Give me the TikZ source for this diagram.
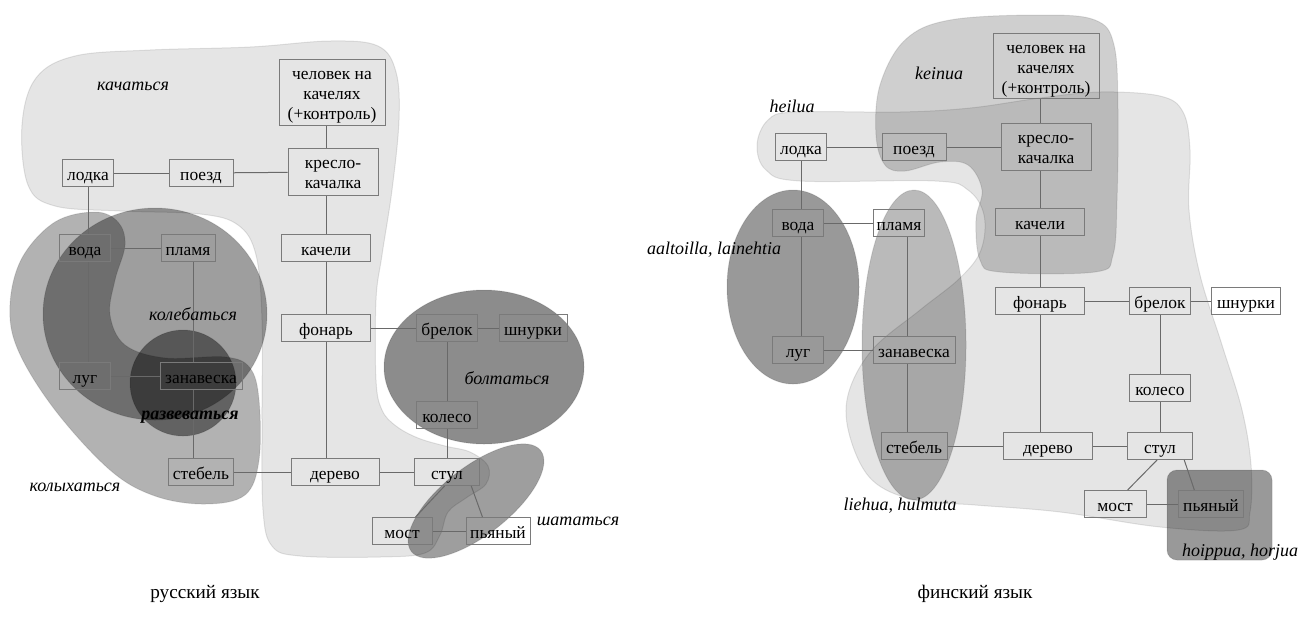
\documentclass[tikz,border=0pt]{standalone}
\usepackage{fontspec}
\setmainfont{Liberation Serif}
\usetikzlibrary{positioning}
\definecolor{BoxGray}{RGB}{122,122,122}
\definecolor{LinkGray}{RGB}{105,105,105}
\newcommand{\termfont}{\fontsize{8.7}{10}\selectfont}
\newcommand{\verbfont}{\fontsize{9}{11}\selectfont\itshape}

\begin{document}
\begin{tikzpicture}[x=0.5pt,y=-0.5pt,
    term/.style={draw=BoxGray,line width=0.5pt,font=\termfont,inner sep=1pt,
      text height=8pt,text depth=1pt,
      minimum height=13.5pt,minimum width=#1*0.5pt},
    multi/.style={text height=#1,text depth=1pt,align=center},
    link/.style={draw=LinkGray,line width=0.5pt},
    blob/.style={fill=black,fill opacity=#1,draw=black,draw opacity=0.1,line width=0.5pt},
    verb/.style={font=\verbfont},
    lang/.style={font=\fontsize{9.6}{11}\selectfont}]
  \useasboundingbox (0,0) rectangle (1299,617);

  % --- русский: области ---
  \filldraw[blob=0.1] plot[smooth cycle,tension=0.6] coordinates {
    (22,125) (36,78) (75,56) (150,50) (250,47) (330,41) (378,46) (396,72)
    (399,120) (392,190) (382,255) (376,300) (376,380) (382,410) (396,426)
    (418,438) (445,446) (470,452) (488,466) (486,484) (466,498) (448,512)
    (440,535) (425,553) (380,557) (300,556) (272,546) (263,510) (262,420)
    (262,320) (256,255) (238,225) (200,214) (120,211) (55,206) (28,185)};
  \filldraw[blob=0.3] plot[smooth cycle,tension=0.6] coordinates {
    (95,212) (118,222) (125,245) (115,280) (110,315) (125,345) (165,358)
    (225,357) (250,368) (259,400) (259,460) (245,495) (205,504) (155,496)
    (110,470) (55,410) (18,350) (10,305) (22,258) (55,222)};
  \filldraw[blob=0.38] (155,314) ellipse[x radius=112,y radius=106];
  \filldraw[blob=0.45] (183,383) circle[radius=53];
  \filldraw[blob=0.45] (484,367) ellipse[x radius=100,y radius=77];
  \filldraw[blob=0.38,rotate around={38:(476,501)}] (476,501) ellipse[x radius=82,y radius=34];

  % --- финский: области ---
  \filldraw[blob=0.1] plot[smooth cycle,tension=0.6] coordinates {
    (757,145) (768,120) (795,112) (900,112) (970,108) (1040,98) (1100,92)
    (1160,96) (1183,112) (1190,150) (1189,210) (1200,275) (1222,345)
    (1242,410) (1251,465) (1250,512) (1238,530) (1160,527) (1060,512)
    (975,505) (915,500) (872,480) (850,437) (848,395) (872,350) (920,310)
    (960,278) (981,250) (984,215) (968,190) (935,181) (800,181) (766,170)};
  \filldraw[blob=0.19] plot[smooth cycle,tension=0.6] coordinates {
    (876,135) (880,85) (905,40) (950,20) (1040,15) (1095,20) (1114,45)
    (1118,110) (1117,200) (1113,255) (1095,272) (1000,272) (980,260)
    (976,220) (982,190) (968,165) (940,162) (905,171) (885,165)};
  \filldraw[blob=0.4] (793,287) ellipse[x radius=66,y radius=97];
  \filldraw[blob=0.27] (914,345) ellipse[x radius=52,y radius=155];
  \filldraw[blob=0.4,rounded corners=5pt] (1167,470) rectangle (1272,560);

  % --- русский: узлы ---
  \node[term=106,multi=28pt,minimum height=33pt] (chelL) at (332,92) {человек на\\качелях\\(+контроль)};
  \node[term=90,multi=17.5pt,minimum height=23.5pt] (kresloL) at (333,172) {кресло-\\качалка};
  \node[term=89] (kachL) at (326,248) {качели};
  \node[term=51] (lodkaL) at (88,173) {лодка};
  \node[term=64] (poezdL) at (201,173) {поезд};
  \node[term=51] (vodaL) at (85,248) {вода};
  \node[term=54] (plamyaL) at (188,248) {пламя};
  \node[term=51] (lugL) at (85,376) {луг};
  \node[term=82] (zanavL) at (201,376) {занавеска};
  \node[term=65] (stebelL) at (201,472) {стебель};
  \node[term=89] (fonarL) at (326,328) {фонарь};
  \node[term=61] (brelokL) at (447,328) {брелок};
  \node[term=68] (shnurL) at (533,328) {шнурки};
  \node[term=61] (kolesoL) at (447,415) {колесо};
  \node[term=88] (derevoL) at (335,472) {дерево};
  \node[term=65] (stulL) at (447,472) {стул};
  \node[term=60] (mostL) at (402,531) {мост};
  \node[term=64] (pyanL) at (498,531) {пьяный};
  \coordinate (axisL) at (193,0);

  \draw[link] (chelL.south -| kachL) -- (kresloL.north -| kachL);
  \draw[link] (kresloL.south -| kachL) -- (kachL);
  \draw[link] (kachL) -- (fonarL);
  \draw[link] (fonarL) -- (fonarL |- derevoL.north);
  \draw[link] (lodkaL) -- (poezdL);
  \draw[link] (poezdL) -- (kresloL);
  \draw[link] (lodkaL) -- (lodkaL |- vodaL.north);
  \draw[link] (vodaL.south -| lodkaL) -- (lugL.north -| lodkaL);
  \draw[link] (vodaL) -- (plamyaL);
  \draw[link] (lugL) -- (zanavL);
  \draw[link] (plamyaL.south -| axisL) -- (zanavL.north -| axisL);
  \draw[link] (zanavL.south -| axisL) -- (stebelL.north -| axisL);
  \draw[link] (stebelL) -- (derevoL);
  \draw[link] (derevoL) -- (stulL);
  \draw[link] (fonarL) -- (brelokL);
  \draw[link] (brelokL) -- (shnurL);
  \draw[link] (brelokL) -- (kolesoL);
  \draw[link] (kolesoL) -- (stulL);
  \draw[link] (stulL.260) -- (mostL.46);
  \draw[link] (stulL.330) -- (pyanL.138);
  \draw[link] (mostL) -- (pyanL);

  % --- финский: узлы ---
  \node[term=106,multi=28pt,minimum height=32.5pt] (chelR) at (1046,66) {человек на\\качелях\\(+контроль)};
  \node[term=90,multi=17.5pt,minimum height=23.5pt] (kresloR) at (1046,147) {кресло-\\качалка};
  \node[term=89] (kachR) at (1040,222) {качели};
  \node[term=51] (lodkaR) at (801,147) {лодка};
  \node[term=64] (poezdR) at (914,147) {поезд};
  \node[term=51] (vodaR) at (798,223) {вода};
  \node[term=51] (plamyaR) at (899,223) {пламя};
  \node[term=51] (lugR) at (798,350) {луг};
  \node[term=82] (zanavR) at (914,350) {занавеска};
  \node[term=66] (stebelR) at (914,446) {стебель};
  \node[term=89] (fonarR) at (1040,301) {фонарь};
  \node[term=61] (brelokR) at (1160,301) {брелок};
  \node[term=69] (shnurR) at (1246,301) {шнурки};
  \node[term=61] (kolesoR) at (1160,388) {колесо};
  \node[term=89] (derevoR) at (1048,446) {дерево};
  \node[term=65] (stulR) at (1160,446) {стул};
  \node[term=62] (mostR) at (1115,504) {мост};
  \node[term=65] (pyanR) at (1211,504) {пьяный};
  \coordinate (axisR) at (907,0);

  \draw[link] (chelR.south -| kachR) -- (kresloR.north -| kachR);
  \draw[link] (kresloR.south -| kachR) -- (kachR);
  \draw[link] (kachR) -- (fonarR);
  \draw[link] (fonarR) -- (fonarR |- derevoR.north);
  \draw[link] (lodkaR) -- (poezdR);
  \draw[link] (poezdR) -- (kresloR);
  \draw[link] (lodkaR) -- (lodkaR |- vodaR.north);
  \draw[link] (vodaR.south -| lodkaR) -- (lugR.north -| lodkaR);
  \draw[link] (vodaR) -- (plamyaR);
  \draw[link] (lugR) -- (zanavR);
  \draw[link] (plamyaR.south -| axisR) -- (zanavR.north -| axisR);
  \draw[link] (zanavR.south -| axisR) -- (stebelR.north -| axisR);
  \draw[link] (stebelR) -- (derevoR);
  \draw[link] (derevoR) -- (stulR);
  \draw[link] (fonarR) -- (brelokR);
  \draw[link] (brelokR) -- (shnurR);
  \draw[link] (brelokR) -- (kolesoR);
  \draw[link] (kolesoR) -- (stulR);
  \draw[link] (stulR.258) -- (mostR.48);
  \draw[link] (stulR.330) -- (pyanR.140);
  \draw[link] (mostR) -- (pyanR);

  % --- подписи глаголов ---
  \node[verb] (kachatsya) at (133,86) {качаться};
  \node[verb] (kolebatsya) at (193,314) {колебаться};
  \node[verb,font=\verbfont\bfseries] (razvevatsya) at (190,417) {развеваться};
  \node[verb] (kolyhatsya) at (75,487) {колыхаться};
  \node[verb] (boltatsya) at (507,378) {болтаться};
  \node[verb] (shatatsya) at (578,521) {шататься};
  \node[verb] (keinua) at (939,73) {keinua};
  \node[verb] (heilua) at (792,106) {heilua};
  \node[verb] (aaltoilla) at (714,250) {aaltoilla, lainehtia};
  \node[verb] (liehua) at (900,506) {liehua, hulmuta};
  \node[verb] (hoippua) at (1240,552) {hoippua, horjua};

  \node[lang] (rus) at (205,594) {русский язык};
  \node[lang] (fin) at (975,594) {финский язык};
\end{tikzpicture}
\end{document}
